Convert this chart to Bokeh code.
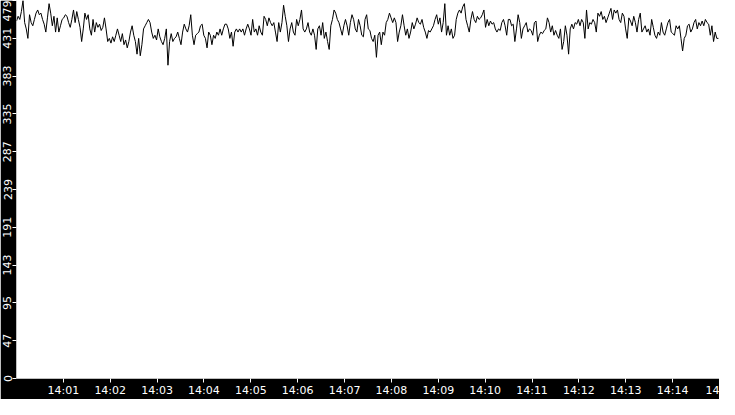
import numpy as np
from bokeh.plotting import figure
from bokeh.models import FixedTicker, CustomJSTickFormatter, Range1d, ColumnDataSource
from bokeh.embed import file_html
from bokeh.resources import INLINE

# Values, one sample about every 2.085 s starting 14:00:00
vals_a = [453, 459, 455, 465, 479, 451, 443, 431, 461, 451, 447, 455, 463, 467, 461, 463, 455, 449,
          439, 457, 475, 463, 447, 459, 439, 457, 439, 447, 455, 457, 461, 459, 451, 445, 455, 467,
          451, 465, 455, 445, 427, 443, 463, 455, 461, 443, 435, 455, 439, 451, 445, 449, 441, 445,
          457, 443, 427, 431, 425, 433, 427, 435, 443, 435, 427, 437, 423, 429, 419, 427, 439, 447]
vals_b = [435, 427, 411, 431, 409, 423, 443, 447, 451, 455, 451, 439, 431, 435, 429, 443, 433, 427,
          423, 431, 443, 397, 427, 437, 427, 431, 433, 439, 431, 423, 439, 449, 443, 439, 447, 461,
          435, 423, 435, 437, 439, 447, 449, 435, 431, 419, 439, 435, 423, 435, 431, 439, 435, 443,
          435, 443, 449, 449, 443, 431, 439, 421, 439, 443, 439, 443, 439, 443, 435, 443, 449, 443]
vals_c = [435, 455, 439, 443, 435, 447, 439, 435, 459, 455, 447, 457, 451, 447, 451, 439, 427, 451,
          439, 451, 473, 459, 447, 427, 443, 451, 439, 435, 455, 447, 455, 467, 443, 439, 443, 451,
          439, 435, 443, 435, 417, 443, 447, 435, 451, 431, 439, 427, 417, 447, 455, 467, 463, 455,
          451, 443, 435, 447, 455, 447, 435, 451, 461, 455, 443, 439, 455, 447, 435, 433, 455, 461]
vals_d = [443, 441, 431, 427, 435, 407, 435, 439, 423, 439, 435, 451, 455, 463, 457, 451, 457, 451,
          427, 439, 447, 461, 447, 435, 443, 431, 439, 451, 443, 449, 457, 451, 449, 455, 445, 439,
          431, 441, 439, 443, 447, 455, 461, 449, 457, 439, 451, 475, 435, 447, 435, 443, 431, 435,
          455, 463, 467, 463, 471, 475, 455, 447, 439, 455, 465, 455, 451, 459, 455, 457, 461, 467]
vals_e = [445, 455, 447, 453, 449, 451, 443, 439, 443, 441, 451, 455, 447, 435, 455, 455, 447, 449,
          427, 443, 461, 451, 431, 443, 447, 451, 439, 443, 441, 435, 451, 453, 427, 435, 439, 437,
          441, 443, 457, 451, 439, 447, 435, 441, 435, 431, 443, 417, 427, 447, 435, 411, 443, 449,
          443, 451, 449, 455, 447, 455, 451, 431, 467, 443, 451, 449, 455, 451, 439, 463, 459, 465]
vals_f = [455, 459, 451, 457, 463, 469, 455, 467, 463, 467, 455, 451, 463, 459, 443, 431, 457, 453,
          447, 459, 451, 439, 455, 463, 439, 443, 447, 439, 443, 435, 455, 445, 435, 431, 439, 435,
          451, 439, 435, 443, 451, 455, 439, 437, 435, 447, 443, 447, 431, 415, 431, 435, 447, 449,
          439, 443, 451, 455, 443, 451, 447, 453, 447, 455, 451, 449, 435, 447, 427, 439, 431, 431]

values = vals_a + vals_b + vals_c + vals_d + vals_e + vals_f
step_ms = 2085
start = np.datetime64("2024-01-01T14:00:00")
end = np.datetime64("2024-01-01T14:15:00")
minute_ticks = [start + np.timedelta64(k, "m") for k in range(1, 16)]
y_max = 479
y_ticks = [y_max * k / 10 for k in range(11)]

times = start + (np.arange(len(values)) * step_ms).astype("timedelta64[ms]")
src = ColumnDataSource(data=dict(t=times, v=values))

def ms(d):
    return float((d - np.datetime64("1970-01-01T00:00:00")) / np.timedelta64(1, "ms"))

x_end = ms(end)

p = figure(width=719, height=399, x_axis_type="datetime", output_backend="svg",
           toolbar_location=None, x_range=Range1d(ms(start), x_end),
           y_range=Range1d(0, y_max), min_border=0)
p.background_fill_color = "white"
p.border_fill_color = "black"
p.outline_line_color = None
p.grid.visible = False

p.line("t", "v", source=src, line_color="black", line_width=1)

font = "DejaVu Sans"
for ax in (p.xaxis[0], p.yaxis[0]):
    ax.axis_line_color = None
    ax.major_tick_line_color = "white"
    ax.major_tick_out = 4
    ax.major_tick_in = 0
    ax.minor_tick_line_color = None
    ax.major_label_text_color = "white"
    ax.major_label_text_font = font
    ax.major_label_text_font_size = "11px"
    ax.major_label_standoff = 1

p.xaxis.ticker = FixedTicker(ticks=[ms(t) for t in minute_ticks])
# the last label is cut by the right edge in the reference, only "14" shows
p.xaxis.formatter = CustomJSTickFormatter(args=dict(x_end=x_end), code="""
    const d = new Date(tick);
    const hh = String(d.getUTCHours()).padStart(2, '0');
    const mm = String(d.getUTCMinutes()).padStart(2, '0');
    if (tick >= x_end - 1) { return hh; }
    return hh + ':' + mm;
""")
p.yaxis.ticker = FixedTicker(ticks=y_ticks)
p.yaxis.formatter = CustomJSTickFormatter(code="return Math.floor(tick + 1e-6).toString();")
p.yaxis.major_label_orientation = "vertical"

open("out.html", "w").write(file_html(p, INLINE))
